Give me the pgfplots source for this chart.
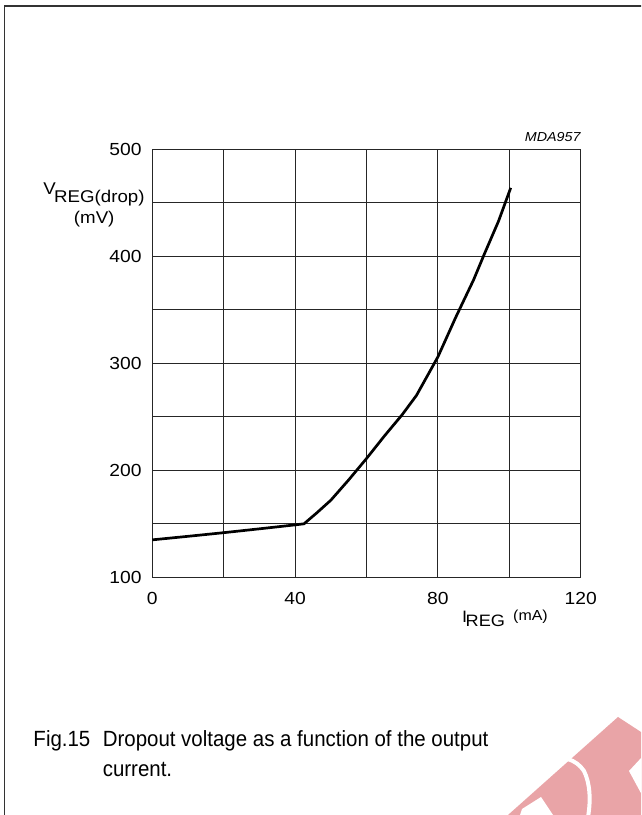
\documentclass[border=0pt]{standalone}
\usepackage{pgfplots}
\pgfplotsset{compat=1.18}
\usepackage{fontspec}
\setmainfont{Liberation Sans}
\newfontfamily\capfont[FakeStretch=0.93]{Liberation Sans}
\newfontfamily\chfont[FakeStretch=1.1]{Liberation Sans}
\definecolor{wmpink}{RGB}{233,164,167}
\begin{document}
\begin{tikzpicture}[x=1pt,y=1pt]
\clip (0,0) rectangle (641,815);
\fill[white] (0,0) rectangle (641,815);
% watermark
\fill[wmpink] (508,0) -- (618,98) -- (641,83) -- (641,0) -- cycle;
\draw[white, line width=4pt] (546,55) .. controls (562,60) and (576,56) .. (584,44) .. controls (590,32) and (591,15) .. (588,-2);
\fill[white] (522,6) -- (541,18) -- (553,0) -- (520,0) -- cycle;
\fill[white] (629,44) -- (642,58) -- (642,20) -- cycle;
% frame
\draw[line width=1.6pt,black!80] (4.5,-5) -- (4.5,809) -- (650,809);
\begin{axis}[
  at={(152.3pt,237.7pt)}, anchor=south west,
  scale only axis, width=428.4pt, height=428pt,
  xmin=0, xmax=120, ymin=100, ymax=500,
  xtick={0,40,80,120}, minor xtick={20,60,100},
  ytick={100,200,300,400,500}, minor ytick={150,250,350,450},
  grid=both,
  major grid style={black!85, line width=0.9pt},
  minor grid style={black!85, line width=0.9pt},
  axis line style={black!85, line width=0.9pt},
  major tick length=0pt, minor tick length=0pt,
  /pgf/number format/assume math mode=true,
  tick label style={font=\fontsize{17.5}{17.5}\chfont, inner sep=0pt},
  xticklabel style={anchor=north, yshift=-15pt},
  yticklabel style={anchor=east, xshift=-10.6pt},
  clip=false,
]
\addplot[black, line width=2.7pt, line join=round] coordinates {
(0,135) (10,138.3) (20,141.7) (30,145.3) (40,149) (42.5,150) (46,160)
(50,172) (55,191) (60,211) (65,232) (70,252) (74,270) (77,288) (80,306)
(85,343) (90,378) (93,402) (97,433) (100.4,464)
};
\end{axis}
% y label
\node[anchor=base west, inner sep=0pt, font=\fontsize{17}{17}\chfont] at (43.2,620) {V};
\node[anchor=base west, inner sep=0pt, font=\fontsize{17}{17}\chfont] at (54,612) {REG(drop)};
\node[anchor=base, inner sep=0pt, font=\fontsize{17}{17}\chfont] at (94.2,591.7) {(mV)};
% x label
\node[anchor=base west, inner sep=0pt, font=\fontsize{16.5}{16.5}\chfont] at (461.8,192.3) {I};
\node[anchor=base west, inner sep=0pt, font=\fontsize{16.5}{16.5}\chfont] at (465.5,188.3) {REG};
\node[anchor=base west, inner sep=0pt, font=\fontsize{14.5}{14.5}\chfont] at (513,194.3) {(mA)};
% code
\node[anchor=base east, inner sep=0pt, font=\fontsize{13}{13}\chfont\itshape] at (580.7,673.3) {MDA957};
% caption
\node[anchor=base west, inner sep=0pt, font=\fontsize{22}{22}\capfont] at (33.3,68.3) {Fig.15};
\node[anchor=base west, inner sep=0pt, font=\fontsize{22}{22}\capfont] at (102.6,68.3) {Dropout voltage as a function of the output};
\node[anchor=base west, inner sep=0pt, font=\fontsize{22}{22}\capfont] at (102.6,38.3) {current.};
\end{tikzpicture}
\end{document}
